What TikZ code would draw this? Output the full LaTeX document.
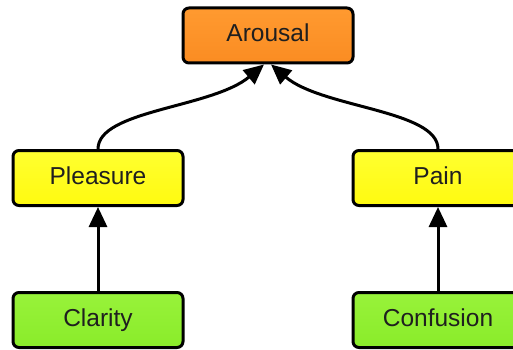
\documentclass[tikz,border=0pt]{standalone}
\usepackage{fontspec}
\setmainfont{Liberation Sans}
\usetikzlibrary{arrows.meta}

\definecolor{arousalTop}{HTML}{FF9A30}
\definecolor{arousalBot}{HTML}{FA8C22}
\definecolor{yellowTop}{HTML}{FFFF30}
\definecolor{yellowBot}{HTML}{FFFA10}
\definecolor{greenTop}{HTML}{98F23A}
\definecolor{greenBot}{HTML}{8AEC2A}

\tikzset{
  box/.style={draw=black, line width=3pt, rounded corners=6pt,
    minimum width=170pt, minimum height=55pt, inner sep=0pt,
    text height=17pt, text depth=5pt,
    font=\fontsize{24.5}{27}\selectfont, text=black!88},
  topbox/.style={box, top color=arousalTop, bottom color=arousalBot},
  midbox/.style={box, top color=yellowTop, bottom color=yellowBot},
  lowbox/.style={box, top color=greenTop, bottom color=greenBot},
  link/.style={line width=3pt, draw=black,
    -{Triangle[length=20pt, width=18pt]}},
}

\begin{document}
\begin{tikzpicture}[x=1pt, y=-1pt]
  \useasboundingbox (0,0) rectangle (513,350);
  \clip (0,0) rectangle (513,350);
  \fill[white] (0,0) rectangle (513,350);

  % boxes
  \node[topbox] (arousal)   at (268,35.5) {Arousal};
  \node[midbox] (pleasure)  at (98,178)   {Pleasure};
  \node[midbox] (pain)      at (438,178)  {Pain};
  \node[lowbox] (clarity)   at (98,320)   {Clarity};
  \node[lowbox] (confusion) at (438,320)  {Confusion};

  % points where the curved links meet the top box
  \coordinate (tipL) at ([xshift=-4pt]arousal.south);
  \coordinate (tipR) at ([xshift=3pt]arousal.south);

  % links
  \draw[link] (pleasure.north) .. controls (98,110) and (212,108) .. (tipL);
  \draw[link] (pain.north) .. controls (438,110) and (322,108) .. (tipR);
  \draw[link] (clarity.north) -- (pleasure.south);
  \draw[link] (confusion.north) -- (pain.south);
\end{tikzpicture}
\end{document}
